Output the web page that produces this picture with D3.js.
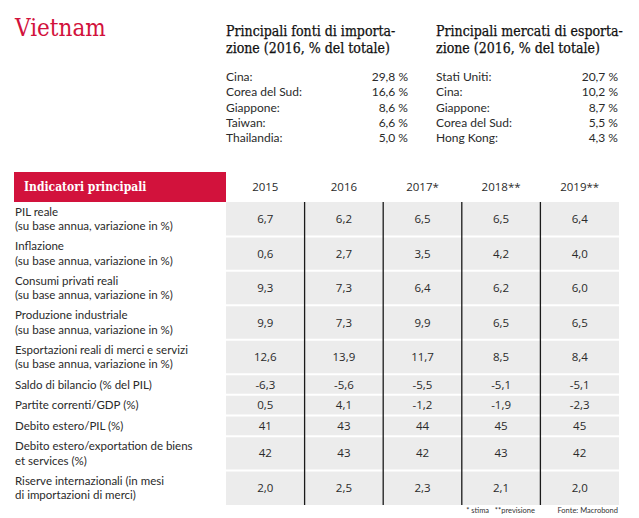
<!DOCTYPE html>
<html><head><meta charset="utf-8">
<script src="https://cdn.jsdelivr.net/npm/d3@7"></script>
<style>body{margin:0;background:#fff}svg{display:block}</style>
</head><body>
<script>
// ---- data ----
const title = "Vietnam";
const importHeading = ["Principali fonti di importa-", "zione (2016, % del totale)"];
const exportHeading = ["Principali mercati di esporta-", "zione (2016, % del totale)"];
const importPartners = ["Cina:", "Corea del Sud:", "Giappone:", "Taiwan:", "Thailandia:"];
const importShares = [29.8, 16.6, 8.6, 6.6, 5.0];
const exportPartners = ["Stati Uniti:", "Cina:", "Giappone:", "Corea del Sud:", "Hong Kong:"];
const exportShares = [20.7, 10.2, 8.7, 5.5, 4.3];
const tableTitle = "Indicatori principali";
const years = ["2015", "2016", "2017*", "2018**", "2019**"];
const indicatorLabels = [
  ["PIL reale", "(su base annua, variazione in %)"],
  ["Inflazione", "(su base annua, variazione in %)"],
  ["Consumi privati reali", "(su base annua, variazione in %)"],
  ["Produzione industriale", "(su base annua, variazione in %)"],
  ["Esportazioni reali di merci e servizi", "(su base annua, variazione in %)"],
  ["Saldo di bilancio (% del PIL)"],
  ["Partite correnti/GDP (%)"],
  ["Debito estero/PIL (%)"],
  ["Debito estero/exportation de biens", "et services (%)"],
  ["Riserve internazionali (in mesi", "di importazioni di merci)"]
];
const pilReale = [6.7, 6.2, 6.5, 6.5, 6.4];
const inflazione = [0.6, 2.7, 3.5, 4.2, 4.0];
const consumi = [9.3, 7.3, 6.4, 6.2, 6.0];
const produzione = [9.9, 7.3, 9.9, 6.5, 6.5];
const esportazioni = [12.6, 13.9, 11.7, 8.5, 8.4];
const saldo = [-6.3, -5.6, -5.5, -5.1, -5.1];
const partite = [0.5, 4.1, -1.2, -1.9, -2.3];
const debitoPil = [41, 43, 44, 45, 45];
const debitoExport = [42, 43, 42, 43, 42];
const riserve = [2.0, 2.5, 2.3, 2.1, 2.0];
const decimals = [1, 1, 1, 1, 1, 1, 1, 0, 0, 1];
const footnote = "* stima   **previsione";
const source = "Fonte: Macrobond";

const indicatorValues = [pilReale, inflazione, consumi, produzione, esportazioni, saldo, partite, debitoPil, debitoExport, riserve];

// ---- layout / style ----
const W = 639, H = 518;
const red = "#d2123c";
const serif = "'DejaVu Serif Condensed', 'DejaVu Serif', serif";
const narrow = "Lato, sans-serif";
const sans = "'Open Sans', sans-serif";
const textCol = "#2a2a2a";

const loc = d3.formatLocale({decimal: ",", thousands: ".", grouping: [3], currency: ["", "€"], minus: "-"});
const f1 = loc.format(".1f"), f0 = loc.format(".0f");

const svg = d3.select("body").append("svg").attr("width", W).attr("height", H);

// title
svg.append("text").attr("x", 15).attr("y", 36).text(title)
  .style("font-family", serif).style("font-size", "24px").attr("fill", red);

// partner blocks
function block(x0, xRight, heading, names, vals) {
  const g = svg.append("g");
  g.selectAll("text.h").data(heading).join("text").attr("class", "h")
    .attr("x", x0).attr("y", (d, i) => 36 + i * 16.5).text(d => d)
    .style("font-family", serif).style("font-size", "14px").attr("fill", "#111")
    .attr("stroke", "#111").attr("stroke-width", 0.25);
  const y = d3.scalePoint().domain(d3.range(names.length)).range([81, 142]);
  g.selectAll("text.n").data(names).join("text").attr("class", "n")
    .attr("x", x0).attr("y", (d, i) => y(i)).text(d => d)
    .style("font-family", narrow).style("font-size", "12px").attr("fill", textCol);
  g.selectAll("text.v").data(vals).join("text").attr("class", "v")
    .attr("x", xRight).attr("y", (d, i) => y(i)).attr("text-anchor", "end").text(d => f1(d) + " %")
    .style("font-family", narrow).style("font-size", "12px").attr("fill", textCol);
}
block(226, 408, importHeading, importPartners, importShares);
block(436, 618, exportHeading, exportPartners, exportShares);

// table
const x = d3.scaleBand().domain(years).range([226, 619]).padding(0);
const tableTop = 202, tableBottom = 505;
const weights = indicatorLabels.map(l => l.length === 2 ? 5 : 3);
const cum = [0]; weights.forEach(w => cum.push(cum[cum.length - 1] + w));
const y = d3.scaleLinear().domain([0, d3.sum(weights)]).range([tableTop, tableBottom]);

// header
svg.append("rect").attr("x", 14).attr("y", 172).attr("width", 212).attr("height", 30).attr("fill", red);
svg.append("text").attr("x", 24).attr("y", 191).text(tableTitle)
  .style("font-family", serif).style("font-size", "12px").style("font-weight", "bold").attr("fill", "#fff");
svg.selectAll("text.year").data(years).join("text").attr("class", "year")
  .attr("x", d => x(d) + x.bandwidth() / 2).attr("y", 191).attr("text-anchor", "middle").text(d => d)
  .style("font-family", sans).style("font-size", "11.5px").attr("fill", textCol);

// gray body
svg.append("rect").attr("x", x.range()[0]).attr("y", tableTop).attr("width", x.range()[1] - x.range()[0])
  .attr("height", tableBottom - tableTop).attr("fill", "#ececec");

// row separators
svg.selectAll("line.sep").data(cum.slice(1, -1)).join("line").attr("class", "sep")
  .attr("x1", x.range()[0]).attr("x2", x.range()[1]).attr("y1", d => y(d)).attr("y2", d => y(d))
  .attr("stroke", "#fff").attr("stroke-width", 2);

// vertical column lines
svg.selectAll("line.col").data(years.slice(1)).join("line").attr("class", "col")
  .attr("x1", d => x(d)).attr("x2", d => x(d)).attr("y1", tableTop).attr("y2", tableBottom)
  .attr("stroke", "#1a1a1a").attr("stroke-width", 1.3);

// rows
const rows = svg.selectAll("g.row").data(indicatorLabels).join("g").attr("class", "row");
rows.each(function (lab, i) {
  const g = d3.select(this);
  const cy = (y(cum[i]) + y(cum[i + 1])) / 2;
  g.selectAll("text.lab").data(lab).join("text").attr("class", "lab")
    .attr("x", 15).attr("y", (d, j) => cy + (j - (lab.length - 1) / 2) * 14.5)
    .attr("dy", "0.35em").text(d => d)
    .style("font-family", narrow).style("font-size", "11.5px").attr("fill", textCol);
  const fmt = decimals[i] ? f1 : f0;
  g.selectAll("text.val").data(indicatorValues[i]).join("text").attr("class", "val")
    .attr("x", (d, j) => x(years[j]) + x.bandwidth() / 2).attr("y", cy).attr("dy", "0.35em")
    .attr("text-anchor", "middle").text(d => fmt(d))
    .style("font-family", sans).style("font-size", "11.5px").attr("fill", textCol);
});

// footnotes
svg.append("text").attr("x", 535).attr("y", 513).attr("text-anchor", "end").text(footnote)
  .style("font-family", narrow).style("font-size", "7.5px").attr("fill", "#333").style("white-space", "pre");
svg.append("text").attr("x", 618).attr("y", 513).attr("text-anchor", "end").text(source)
  .style("font-family", narrow).style("font-size", "7.5px").attr("fill", "#333");
</script>
</body></html>
